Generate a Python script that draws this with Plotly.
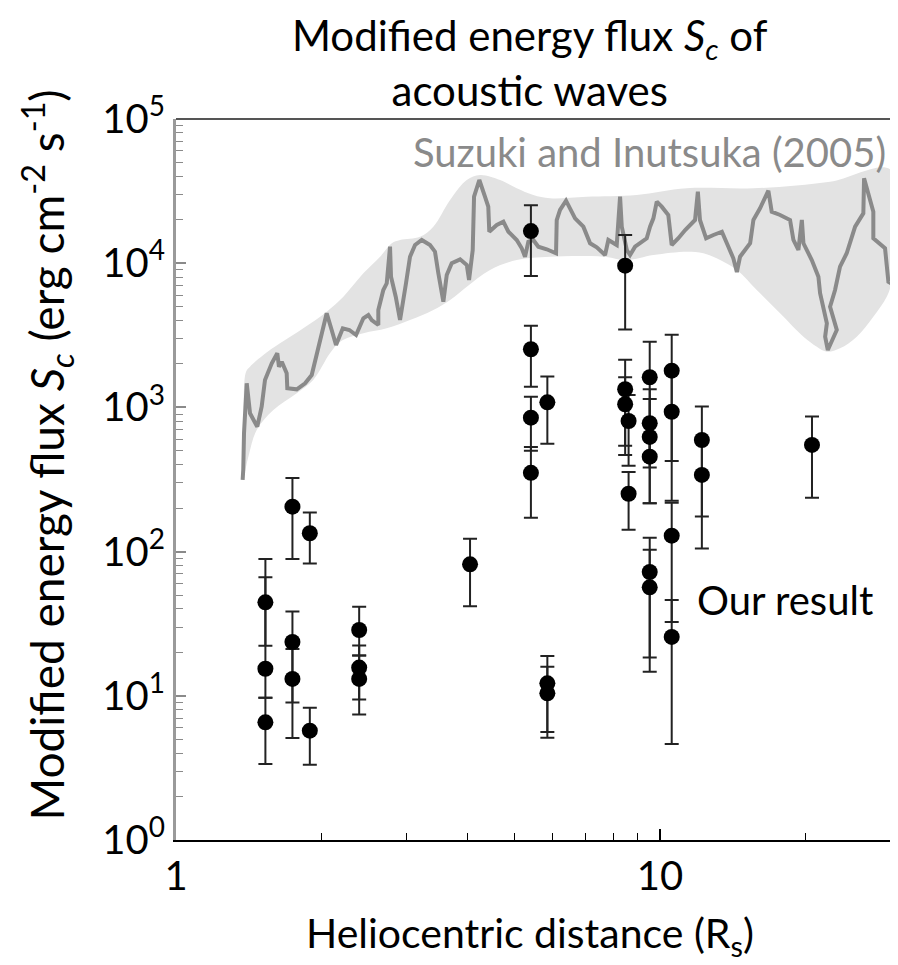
import plotly.graph_objects as go

# ---------------- data ----------------
# Our result: heliocentric distance (Rs), flux, lower and upper error limits
obs_x = [1.53, 1.53, 1.53, 1.74, 1.74, 1.74, 1.89, 1.89, 2.39, 2.39, 2.39, 4.05,
         5.41, 5.41, 5.41, 5.41, 5.85, 5.85, 5.85, 8.47, 8.47, 8.47, 8.61, 8.61,
         9.52, 9.52, 9.52, 9.52, 9.52, 9.52, 10.57, 10.57, 10.57, 10.57, 12.2, 12.2, 20.6]
obs_y = [44.5, 15.4, 6.55, 205, 23.6, 13.1, 134, 5.73, 28.6, 15.7, 13.1, 81.6,
         16700, 2530, 849, 352, 1084, 12.2, 10.4, 9610, 1336, 1052, 805, 252,
         1619, 776, 624, 455, 72.2, 56.5, 1797, 933, 129, 25.6, 594, 340, 549]
obs_lo = [22.2, 9.7, 3.37, 88.9, 8.99, 5.1, 82.8, 3.33, 19.0, 9.43, 7.42, 41.8,
          8150, 1393, 501, 172, 560, 5.61, 5.12, 3470, 468, 542, 394, 142,
          383, 216, 455, 216, 18.4, 14.7, 425, 225, 32.5, 4.63, 175, 105, 236]
obs_hi = [88.9, 66.4, 9.7, 324, 38.5, 21.1, 187, 8.26, 41.5, 22.3, 19.0, 123,
          25200, 3690, 1186, 531, 1640, 18.9, 15.9, 15700, 2142, 1619, 1219, 357,
          2850, 1336, 1143, 624, 125, 103, 3190, 1797, 218, 46.2, 1016, 594, 865]

# Suzuki and Inutsuka (2005) model curve
model_x = [1.373, 1.377, 1.382, 1.400, 1.422, 1.472, 1.503, 1.527, 1.577, 1.619,
           1.632, 1.654, 1.693, 1.698, 1.776, 1.848, 1.907, 1.968, 2.048, 2.097,
           2.141, 2.211, 2.281, 2.355, 2.438, 2.497, 2.537, 2.618, 2.618, 2.681,
           2.725, 2.768, 2.781, 2.844, 2.903, 2.987, 3.044, 3.118, 3.219, 3.348,
           3.428, 3.483, 3.567, 3.625, 3.712, 3.863, 3.988, 4.031, 4.102, 4.128,
           4.233, 4.348, 4.417, 4.438, 4.599, 4.746, 4.861, 5.057, 5.179, 5.261,
           5.344, 5.472, 5.604, 5.833, 6.097, 6.117, 6.214, 6.394, 6.571, 6.675,
           6.943, 7.169, 7.400, 7.698, 7.820, 8.138, 8.268, 8.335, 8.537, 8.671,
           8.879, 9.386, 9.535, 9.687, 9.845, 10.08, 10.40, 10.57, 10.91, 11.27,
           11.81, 11.97, 12.09, 12.45, 12.89, 13.42, 13.84, 14.17, 14.41, 14.63,
           15.35, 15.59, 16.09, 16.74, 17.01, 17.70, 18.56, 18.86, 19.31, 19.63,
           19.78, 20.58, 21.24, 21.41, 22.11, 21.93, 22.21, 23.18, 22.45, 22.99,
           23.54, 24.30, 25.29, 26.30, 26.39, 27.58, 27.58, 29.16, 29.63, 30.0]
model_y = [314, 368, 661, 1469, 910, 735, 1011, 1549, 2022, 2372,
           1916, 2074, 1724, 1357, 1335, 1469, 1677, 2570, 4494, 3443,
           2708, 3536, 3443, 3178, 4149, 4373, 4037, 3728, 4738, 6518,
           7254, 13020, 8063, 5857, 4037, 7290, 11090, 13370, 14490, 13370,
           12020, 8509, 5408, 8282, 9984, 10640, 9716, 7645, 12350, 28920,
           37760, 28920, 24650, 16540, 18400, 19400, 16540, 14490, 12690, 11090,
           14100, 14490, 13020, 12490, 11720, 19930, 23390, 27130, 22760, 20480,
           17910, 13740, 12890, 11400, 14490, 13370, 28920, 17910, 12350, 11400,
           13020, 14890, 17910, 20480, 26710, 24650, 21600, 13370, 14890, 16990,
           19930, 31320, 19930, 14890, 15690, 16540, 13020, 10810, 8690, 11090,
           13740, 19930, 24030, 31820, 22760, 21600, 19930, 14490, 12350, 19930,
           13740, 10520, 8063, 6184, 3831, 3093, 2501, 3443, 4993, 6518,
           9456, 11720, 17910, 22180, 38800, 22760, 14890, 12690, 7440, 7254]

# model range (shaded band): upper and lower envelopes
band_up_x = [1.373, 1.379, 1.395, 1.422, 1.515, 1.640, 1.832, 2.048, 2.217, 2.438,
             2.640, 2.791, 2.903, 3.193, 3.401, 3.683, 3.988, 4.247, 4.672, 5.057,
             5.472, 5.928, 7.056, 8.950, 11.36, 15.59, 22.45, 30.0]
band_up_y = [314, 818, 1760, 1916, 2309, 2783, 3536, 4610, 5857, 8509,
             11090, 13740, 14490, 15270, 17910, 27440, 37760, 40900, 37760, 33070,
             29720, 28190, 28920, 29720, 33070, 33070, 36750, 44300]
band_lo_x = [1.373, 1.411, 1.468, 1.589, 1.776, 1.921, 2.080, 2.183, 2.438, 2.725,
             3.044, 3.401, 3.683, 3.988, 4.454, 5.057, 5.928, 7.636, 8.537, 9.687,
             11.36, 12.29, 13.31, 14.41, 15.84, 17.70, 19.78, 21.08, 22.11, 23.54,
             25.49, 27.58, 29.40, 30.0]
band_lo_y = [314, 455, 697, 959, 1252, 1549, 2372, 2855, 3265, 3536,
             4037, 4738, 5557, 6871, 8970, 10520, 11090, 11090, 10520, 11400,
             12020, 11720, 10520, 8970, 6518, 4494, 3093, 2636, 2434, 2570,
             3093, 4256, 5857, 7254]

x_tick_vals = [1, 10]
x_tick_text = ["1", "10"]
x_minor_vals = [2, 3, 4, 5, 6, 7, 8, 9, 20]
y_tick_vals = [1, 10, 100, 1000, 10000, 100000]
y_tick_text = ["10<sup>0</sup>", "10<sup>1</sup>", "10<sup>2</sup>",
               "10<sup>3</sup>", "10<sup>4</sup>", "10<sup>5</sup>"]
y_minor_vals = [m * 10 ** d for d in range(5) for m in range(2, 10)]

FONT = "Lato, 'Open Sans', sans-serif"

# ---------------- figure ----------------
fig = go.Figure()

fig.add_trace(go.Scatter(
    x=band_up_x + band_lo_x[::-1], y=band_up_y + band_lo_y[::-1],
    mode="lines", fill="toself", fillcolor="#e3e3e3",
    line=dict(width=0, shape="spline", smoothing=1.0), hoverinfo="skip"))

fig.add_trace(go.Scatter(
    x=model_x, y=model_y, mode="lines",
    line=dict(color="#8a8a8a", width=4), hoverinfo="skip"))

err_plus = [h - y for h, y in zip(obs_hi, obs_y)]
err_minus = [y - l for y, l in zip(obs_y, obs_lo)]
fig.add_trace(go.Scatter(
    x=obs_x, y=obs_y, mode="markers",
    marker=dict(color="black", size=16),
    error_y=dict(type="data", symmetric=False, array=err_plus, arrayminus=err_minus,
                 color="#222222", thickness=2, width=7)))

fig.update_layout(
    width=890, height=957,
    margin=dict(l=168, r=7, t=111, b=125),
    plot_bgcolor="white", paper_bgcolor="white",
    showlegend=False,
    font=dict(family=FONT, color="black"),
    xaxis=dict(type="log", range=[0, 1.4771], showgrid=False, zeroline=False,
               showline=True, linecolor="black", linewidth=2,
               tickmode="array", tickvals=x_tick_vals, ticktext=x_tick_text,
               ticks="inside", ticklen=11, tickwidth=1.5, tickcolor="black",
               tickfont=dict(size=40, family=FONT, color="black"),
               minor=dict(tickmode="array", tickvals=x_minor_vals, ticks="inside",
                          ticklen=7, tickwidth=1.2, tickcolor="black", showgrid=False)),
    yaxis=dict(type="log", range=[0, 5], showgrid=False, zeroline=False,
               showline=True, linecolor="#9a9a9a", linewidth=3,
               tickmode="array", tickvals=y_tick_vals, ticktext=y_tick_text,
               ticks="inside", ticklen=10, tickwidth=1.5, tickcolor="#8a8a8a",
               tickfont=dict(size=40, family=FONT, color="black"),
               minor=dict(tickmode="array", tickvals=y_minor_vals, ticks="inside",
                          ticklen=7, tickwidth=1.2, tickcolor="#8a8a8a", showgrid=False)),
)

# top and right frame lines
fig.add_shape(type="line", xref="paper", yref="paper", x0=0, x1=1, y0=1, y1=1,
              line=dict(color="#555555", width=2))
fig.add_shape(type="line", xref="paper", yref="paper", x0=1, x1=1, y0=0, y1=1,
              line=dict(color="#555555", width=2))

fig.add_annotation(xref="paper", yref="paper", x=0.495, y=1.079,
                   text="Modified energy flux <i>S<sub>c</sub></i> of<br>acoustic waves",
                   showarrow=False, xanchor="center", yanchor="middle",
                   font=dict(size=42, family=FONT, color="black"))
fig.add_annotation(xref="paper", yref="paper", x=-0.181, y=0.534,
                   text="Modified energy flux <i>S<sub>c</sub></i> (erg cm<sup>-2</sup> s<sup>-1</sup>)",
                   textangle=-90, showarrow=False, xanchor="center", yanchor="middle",
                   font=dict(size=46, family=FONT, color="black"))
fig.add_annotation(xref="paper", yref="paper", x=0.495, y=-0.132,
                   text="Heliocentric distance (R<sub>s</sub>)",
                   showarrow=False, xanchor="center", yanchor="middle",
                   font=dict(size=41, family=FONT, color="black"))
fig.add_annotation(xref="paper", yref="paper", x=0.996, y=0.954,
                   text="Suzuki and Inutsuka (2005)",
                   showarrow=False, xanchor="right", yanchor="middle",
                   font=dict(size=40, family=FONT, color="#8a8a8a"))
fig.add_annotation(xref="paper", yref="paper", x=0.852, y=0.333,
                   text="Our result",
                   showarrow=False, xanchor="center", yanchor="middle",
                   font=dict(size=40, family=FONT, color="black"))

fig.write_html("out.html")
